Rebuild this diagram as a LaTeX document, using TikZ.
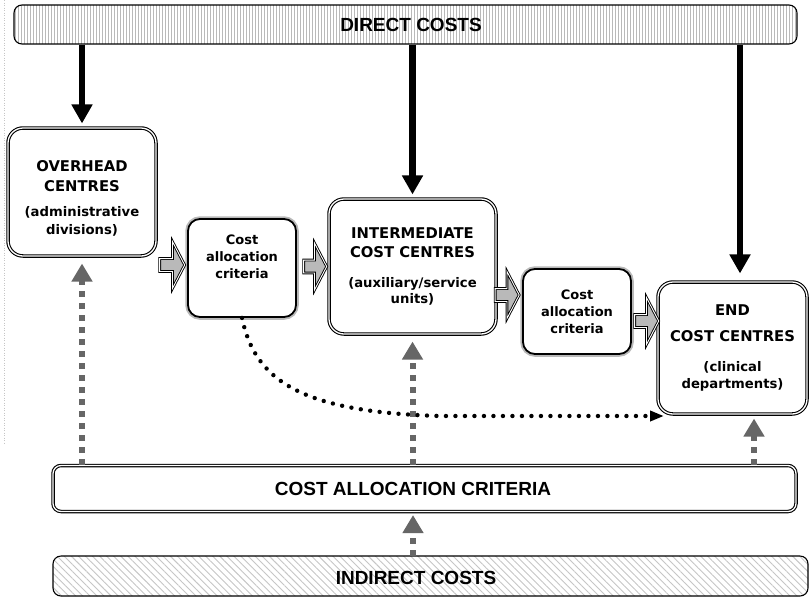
\documentclass[tikz,border=0pt]{standalone}
\usepackage{fontspec}
\newfontfamily\boxfont{DejaVu Sans}
\newfontfamily\barfont{Liberation Sans}
\usetikzlibrary{arrows.meta,shapes.arrows,patterns.meta,calc}
\newcommand{\pasz}{\fontsize{13.2}{19}\selectfont}
\begin{document}
\begin{tikzpicture}[x=1pt,y=-1pt,
  bigbox/.style={draw=black, line width=1.1pt, double=white, double distance=1.3pt,
    rounded corners=15pt, align=center, inner sep=2pt,
    font=\boxfont\bfseries\fontsize{14.8}{19}\selectfont},
  smallbox/.style={preaction={draw=gray!55, line width=5.5pt}, draw=black, line width=1.8pt,
    fill=white, rounded corners=12pt, align=center,
    font=\boxfont\bfseries\fontsize{13}{17}\selectfont},
  bar/.style={draw=black, line width=1.1pt, rounded corners=8pt},
  dbar/.style={draw=black, line width=1.1pt, double=white, double distance=1.3pt, rounded corners=8pt},
  barlabel/.style={font=\barfont\bfseries\fontsize{19}{22}\selectfont, inner sep=0pt},
  blockarr/.style={single arrow, draw=black, line width=0.9pt, double=white, double distance=0.9pt,
    fill=gray!55, single arrow tip angle=125, single arrow head extend=17pt,
    inner xsep=0pt, inner ysep=6pt},
  bigarrow/.style={line width=6.5pt, -{Triangle[width=20pt,length=19pt]}},
  grayarrow/.style={draw=black!60, line width=6pt, dash pattern=on 6pt off 6pt,
    -{Triangle[width=20pt,length=18pt]}},
  dotarrow/.style={line width=4.4pt, line cap=round, dash pattern=on 0pt off 9.5pt,
    -{Triangle[width=10pt,length=14pt]}}]

\fill[white] (0,0) rectangle (810,598);
\useasboundingbox (0,0) rectangle (810,598);

% faint frame line
\draw[gray!45, line width=0.6pt, dash pattern=on 1pt off 1.5pt] (4,0) -- (4,445);

% bars
\node[bar, pattern={Lines[angle=90,distance=3pt,line width=1pt]}, pattern color=gray!55,
  minimum width=783pt, minimum height=39pt] (dc) at (405.5,24.5) {};
\node[barlabel] (dct) at (411,25) {DIRECT COSTS};

\node[dbar, fill=white, minimum width=743pt, minimum height=46pt] (ca) at (424.5,488.5) {};
\node[barlabel] (cat) at (413,489) {COST ALLOCATION CRITERIA};

\node[bar, pattern={Lines[angle=-45,distance=5pt,line width=0.9pt]}, pattern color=gray!45,
  minimum width=755pt, minimum height=40pt] (ic) at (430.5,576) {};
\node[barlabel] (ict) at (416,578) {INDIRECT COSTS};

% boxes
\node[bigbox, minimum width=148pt, minimum height=128pt] (ov) at (82,192)
  {\rule{0pt}{24pt}OVERHEAD\\[1pt] CENTRES\\[6pt] \pasz (administrative\\[-1pt] \pasz divisions)};
\node[smallbox, minimum width=108pt, minimum height=98pt] (c1) at (242,268)
  {Cost\\ allocation\\ criteria\\[6pt] \mbox{}};
\node[bigbox, minimum width=167pt, minimum height=135pt] (im) at (412.5,266.5)
  {INTERMEDIATE\\ COST CENTRES\\[11pt] \pasz (auxiliary/service\\[-3pt] \pasz units)};
\node[smallbox, minimum width=108pt, minimum height=85pt] (c2) at (577,311.5)
  {Cost\\ allocation\\ criteria};
\node[bigbox, minimum width=149pt, minimum height=132pt] (en) at (732.5,348)
  {END\\[7pt] COST CENTRES\\[11pt] \pasz (clinical\\[-2pt] \pasz departments)};

% block arrows
\node[blockarr, minimum height=25pt] (ba1) at (170.5,265) {};
\node[blockarr, minimum height=23pt] (ba2) at (313.5,266.5) {};
\node[blockarr, minimum height=24pt] (ba3) at (505.5,295) {};
\node[blockarr, minimum height=24pt] (ba4) at (645,321) {};

% direct cost arrows
\coordinate (x3) at (740,0);
\coordinate (x4) at (754,0);
\draw[bigarrow, shorten >=4pt] (dc.south -| ov.north) -- (ov.north);
\draw[bigarrow, shorten >=4pt] (dc.south -| im.north) -- (im.north);
\draw[bigarrow, shorten >=8pt] (dc.south -| x3) -- (en.north -| x3);

% indirect (gray dotted) arrows
\draw[grayarrow, shorten >=7pt] (ca.north -| ov.south) -- (ov.south);
\draw[grayarrow, shorten >=7pt] (ca.north -| im.south) -- (im.south);
\draw[grayarrow, shorten >=4pt] (ca.north -| x4) -- (en.south -| x4);
\draw[grayarrow, shorten >=3pt] (ic.north -| cat) -- (ca.south -| cat);

% dotted curve
\coordinate (dtip) at (664,416);
\draw[dotarrow] (c1.south) .. controls (255,380) and (300,412) .. (440,416) -- (dtip);
\end{tikzpicture}
\end{document}
